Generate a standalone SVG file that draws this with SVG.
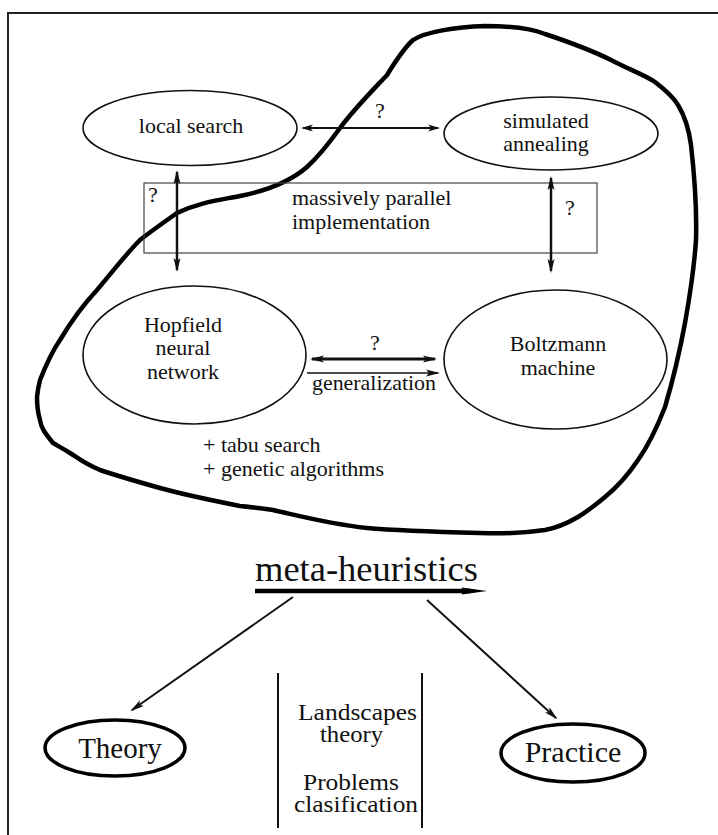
<svg xmlns="http://www.w3.org/2000/svg" width="718" height="835" viewBox="0 0 718 835">
<defs>
<style>
.t{font-family:'Liberation Serif','Times New Roman',serif;font-size:22px;fill:#111}
.m{text-anchor:middle}
.n{fill:none;stroke:#111;stroke-width:1.6}
.c{stroke:#111;fill:none}
</style>
<marker id="ah" viewBox="0 0 12 8" markerUnits="userSpaceOnUse" markerWidth="12" markerHeight="8" refX="10" refY="4" orient="auto-start-reverse">
<path d="M0,0.5 L12,4 L0,7.5 L3,4 z" fill="#111"/>
</marker>
<marker id="ahl" viewBox="0 0 14 8" markerUnits="userSpaceOnUse" markerWidth="14" markerHeight="8" refX="12" refY="4" orient="auto-start-reverse">
<path d="M0,0.5 L14,4 L0,7.5 L3,4 z" fill="#111"/>
</marker>
</defs>
<rect x="8" y="13" width="730" height="850" fill="none" stroke="#222" stroke-width="2"/>
<g id="blob">
<path d="M413,40 C425,32 455,27 485,26 C510,26 530,28 545,34 C575,44 595,52 611,60 C630,70 645,75 655,82 C668,92 674,98 678,105 C686,118 689,130 691,145 C695,180 697,205 696,240 C694,270 690,295 685,323 C680,350 673,380 665,407 C656,430 648,446 638,460 C628,475 616,488 605,497 C595,505 588,511 578,517 C566,524 556,528 545,530 C525,533 505,534 480,533 C440,532 400,531 367,528 C330,524 300,516 273,510 C260,508 250,507 240,506 C210,500 185,495 160,488 C135,481 115,475 100,470 C85,464 78,458 70,453 C62,448 58,446 53,443 C45,433 41,428 40,420 C37,410 37,403 37,397 C38,388 39,384 40,380 C48,360 53,350 60,340 C72,320 83,305 97,290 C110,275 125,255 140,240 C150,232 160,225 177,213 C200,202 220,200 240,196 C270,190 292,180 307,167 C320,155 330,142 340,128 C355,108 373,90 387,75 C395,62 404,48 413,40 Z" fill="none" stroke="#000" stroke-width="4.5" stroke-linejoin="round"/>
</g>
<g font-family="Liberation Serif, serif">
<g id="local-search">
<ellipse class="n" cx="190" cy="128" rx="107" ry="37.5"/>
<text class="t m" x="191" y="133">local search</text>
</g>
<g id="simulated-annealing">
<ellipse class="n" cx="551" cy="133.5" rx="107" ry="36.5"/>
<text class="t m" x="546" y="128">simulated</text>
<text class="t m" x="546" y="151">annealing</text>
</g>
<g id="massively-parallel">
<rect x="144" y="183" width="453" height="70" fill="none" stroke="#444" stroke-width="1.2"/>
<text class="t" x="292" y="205">massively parallel</text>
<text class="t" x="292" y="229">implementation</text>
</g>
<g id="hopfield">
<ellipse class="n" cx="194.5" cy="355" rx="111.5" ry="69"/>
<text class="t m" x="183" y="332">Hopfield</text>
<text class="t m" x="183" y="355">neural</text>
<text class="t m" x="183" y="379">network</text>
</g>
<g id="boltzmann">
<ellipse class="n" cx="555.5" cy="359.5" rx="111.5" ry="69.5"/>
<text class="t m" x="558" y="351">Boltzmann</text>
<text class="t m" x="558" y="375">machine</text>
</g>
<g id="extras">
<text class="t" x="203" y="452">+ tabu search</text>
<text class="t" x="203" y="476">+ genetic algorithms</text>
</g>
<g id="meta-heuristics">
<text class="t" x="255" y="581" style="font-size:35px" textLength="223" lengthAdjust="spacingAndGlyphs">meta-heuristics</text>
<line x1="255" y1="591" x2="470" y2="591" stroke="#000" stroke-width="4.5"/>
<path d="M462,587.5 L487,591 L462,594.5 Z" fill="#000"/>
</g>
<g id="theory">
<ellipse cx="115" cy="748" rx="70" ry="28" fill="none" stroke="#000" stroke-width="3.5"/>
<text class="t m" x="120" y="758" style="font-size:29px">Theory</text>
</g>
<g id="practice">
<ellipse cx="573" cy="753" rx="72" ry="29" fill="none" stroke="#000" stroke-width="3.5"/>
<text class="t m" x="573" y="762" style="font-size:30px">Practice</text>
</g>
<g id="landscapes">
<line x1="278" y1="673" x2="278" y2="828" stroke="#111" stroke-width="2"/>
<line x1="422" y1="673" x2="422" y2="828" stroke="#111" stroke-width="2"/>
<text class="t" x="298" y="720" style="font-size:24px" textLength="119" lengthAdjust="spacingAndGlyphs">Landscapes</text>
<text class="t" x="320" y="742" style="font-size:24px" textLength="63" lengthAdjust="spacingAndGlyphs">theory</text>
<text class="t" x="303" y="790" style="font-size:24px" textLength="96" lengthAdjust="spacingAndGlyphs">Problems</text>
<text class="t" x="294" y="812" style="font-size:24px" textLength="124" lengthAdjust="spacingAndGlyphs">clasification</text>
</g>
<g id="connectors">
<line class="c" x1="303" y1="128" x2="438" y2="128" stroke-width="2" marker-start="url(#ah)" marker-end="url(#ah)"/>
<text class="t m" x="380" y="118">?</text>
<line class="c" x1="177" y1="172" x2="177" y2="270" stroke-width="2.5" marker-start="url(#ahl)" marker-end="url(#ahl)"/>
<text class="t m" x="153" y="202">?</text>
<line class="c" x1="551" y1="178" x2="551" y2="271" stroke-width="2.5" marker-start="url(#ahl)" marker-end="url(#ahl)"/>
<text class="t m" x="570" y="215">?</text>
<line class="c" x1="312" y1="359" x2="435" y2="359" stroke-width="3" marker-start="url(#ahl)" marker-end="url(#ahl)"/>
<text class="t m" x="375" y="350">?</text>
<line class="c" x1="307" y1="373" x2="438" y2="373" stroke-width="1.5" marker-end="url(#ahl)"/>
<text class="t" x="312" y="390" textLength="124" lengthAdjust="spacingAndGlyphs">generalization</text>
<line class="c" x1="293" y1="597" x2="132" y2="710" stroke-width="2" marker-end="url(#ahl)"/>
<line class="c" x1="427" y1="600" x2="556" y2="718" stroke-width="2" marker-end="url(#ahl)"/>
</g>
</g>
</svg>
